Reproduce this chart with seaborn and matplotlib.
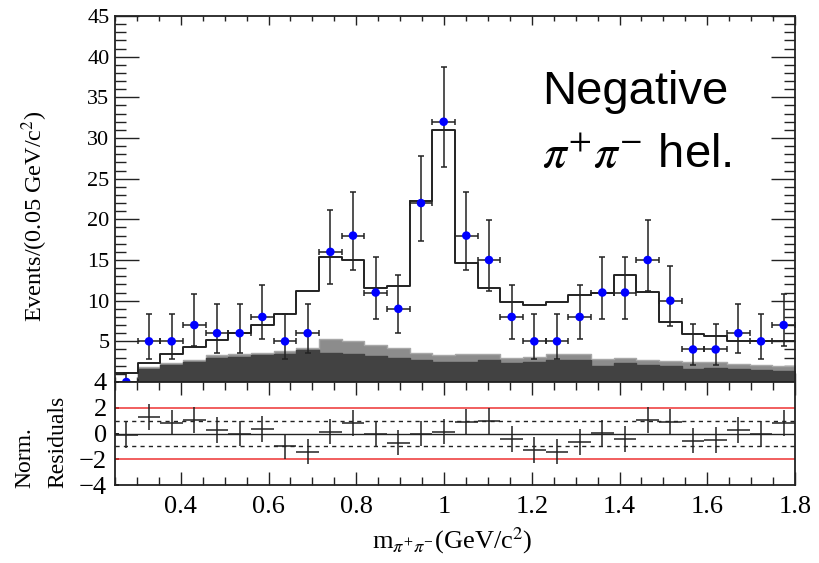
import numpy as np
import pandas as pd
import matplotlib
matplotlib.use("Agg")
import matplotlib.pyplot as plt
import seaborn as sns
from matplotlib.ticker import MultipleLocator, FixedLocator

# ---------------- data ----------------
x_min, x_max, n_bins = 0.25, 1.80, 30
edges = np.linspace(x_min, x_max, n_bins + 1)
centers = 0.5 * (edges[:-1] + edges[1:])
half_w = 0.5 * (edges[1] - edges[0])
bin_edges = [float(e) for e in edges]

data_counts = [0, 5, 5, 7, 6, 6, 8, 5, 6, 16, 18, 11, 9, 22, 32,
               18, 15, 8, 5, 5, 8, 11, 11, 15, 10, 4, 4, 6, 5, 7]
err_low = [0.0, 2.16, 2.16, 2.58, 2.38, 2.38, 2.77, 2.16, 2.38, 3.95, 4.20, 3.26, 2.94, 4.65, 5.62,
           4.20, 3.83, 2.77, 2.16, 2.16, 2.77, 3.26, 3.26, 3.83, 3.10, 1.91, 1.91, 2.38, 2.16, 2.58]
err_high = [1.15, 3.40, 3.40, 3.78, 3.60, 3.60, 3.96, 3.40, 3.60, 5.09, 5.33, 4.43, 4.12, 5.77, 6.72,
            5.33, 4.97, 3.96, 3.40, 3.40, 3.96, 4.43, 4.43, 4.97, 4.28, 3.18, 3.18, 3.60, 3.40, 3.78]
fit_total = [1.1, 2.3, 3.5, 4.3, 5.2, 6.0, 7.0, 8.4, 11.2, 15.4, 15.0, 11.5, 11.8, 22.2, 31.0,
             14.6, 11.6, 9.85, 9.5, 9.85, 10.65, 11.0, 13.2, 11.1, 7.4, 5.9, 5.65, 5.1, 5.0, 5.1]
bkg_dark = [0.0, 1.65, 2.05, 2.45, 2.95, 3.1, 3.3, 3.5, 3.9, 3.6, 3.4, 3.2, 3.0, 2.75, 2.45,
            2.45, 2.7, 2.3, 2.45, 2.7, 2.7, 2.0, 2.3, 2.15, 2.0, 1.65, 1.75, 1.6, 1.45, 1.4]
bkg_total = [0.0, 1.8, 2.3, 2.75, 3.3, 3.4, 3.6, 3.8, 4.2, 5.3, 5.0, 4.6, 4.2, 3.6, 3.3,
             3.5, 3.4, 2.9, 3.1, 3.4, 3.4, 2.8, 2.9, 2.7, 2.6, 2.45, 2.4, 2.25, 2.05, 1.95]
residuals = [-0.1, 1.3, 0.85, 1.05, 0.3, 0.0, 0.35, -1.0, -1.4, 0.15, 0.8, -0.05, -0.7, 0.0, 0.15,
             0.9, 0.95, -0.4, -1.3, -1.4, -0.65, 0.05, -0.45, 1.05, 0.9, -0.55, -0.5, 0.3, -0.05, 0.8]

x_ticks = [0.4, 0.6, 0.8, 1.0, 1.2, 1.4, 1.6, 1.8]
x_tick_labels = ["0.4", "0.6", "0.8", "1", "1.2", "1.4", "1.6", "1.8"]
y_ticks_top = [5, 10, 15, 20, 25, 30, 35, 40, 45]
y_ticks_res = [-4, -2, 0, 2, 4]

df = pd.DataFrame({"m": centers, "data": data_counts, "fit": fit_total,
                   "bkg_dark": bkg_dark, "bkg_total": bkg_total, "res": residuals})

# ---------------- style ----------------
sns.set_theme(style="ticks")
plt.rcParams["font.family"] = ["Liberation Serif", "DejaVu Serif"]
plt.rcParams["mathtext.fontset"] = "stix"
plt.rcParams["axes.linewidth"] = 1.3
for key in ["text.color", "axes.labelcolor", "xtick.color", "ytick.color", "axes.edgecolor"]:
    plt.rcParams[key] = "black"

W, H = 819, 563
fig = plt.figure(figsize=(W / 100, H / 100), dpi=100)
L, R = 115 / W, 795 / W
ax = fig.add_axes([L, 1 - 382 / H, R - L, (382 - 16) / H])
axr = fig.add_axes([L, 1 - 485 / H, R - L, (485 - 382) / H])

# ---------------- top panel ----------------
sns.histplot(x=df["m"], weights=df["bkg_total"], bins=bin_edges, element="step", fill=True,
             color="#8c8c8c", edgecolor="#a8a8a8", alpha=1, linewidth=1.0, ax=ax)
sns.histplot(x=df["m"], weights=df["bkg_dark"], bins=bin_edges, element="step", fill=True,
             color="#424242", edgecolor="#424242", alpha=1, linewidth=1.0, ax=ax)
sns.histplot(x=df["m"], weights=df["fit"], bins=bin_edges, element="step", fill=False,
             color="#222222", linewidth=1.4, ax=ax)

ax.errorbar(df["m"], df["data"], xerr=half_w, yerr=[err_low, err_high], fmt="none",
            ecolor="#222222", elinewidth=1.1, capsize=2.5, capthick=1.1, zorder=5)
sns.scatterplot(data=df, x="m", y="data", color="#0000ff", s=38, edgecolor="none",
                zorder=6, ax=ax)

ax.set_xlim(x_min, x_max)
ax.set_ylim(0, 45)
ax.set_xlabel("")
ax.set_ylabel("")
ax.xaxis.set_major_locator(FixedLocator(x_ticks))
ax.xaxis.set_minor_locator(MultipleLocator(0.05))
ax.yaxis.set_major_locator(FixedLocator(y_ticks_top))
ax.yaxis.set_minor_locator(MultipleLocator(1))
ax.tick_params(axis="x", which="both", direction="in", top=True, bottom=True, labelbottom=False,
               color="#222222", width=1.0)
ax.tick_params(axis="x", which="major", length=6.5)
ax.tick_params(axis="x", which="minor", length=3.5)
ax.tick_params(axis="y", which="both", direction="in", left=True, right=True,
               color="#222222", width=1.0, labelsize=16, pad=4)
ax.tick_params(axis="y", which="major", length=17)
ax.tick_params(axis="y", which="minor", length=8)
for sp in ax.spines.values():
    sp.set_visible(True)
    sp.set_color("#222222")

ax.text(0.628, 0.76, "Negative", transform=ax.transAxes, fontsize=34, color="black",
        family=["Liberation Sans", "DejaVu Sans"], ha="left", va="baseline")
ax.text(0.628, 0.585, r"$\pi^{+}\pi^{-}$ hel.", transform=ax.transAxes, fontsize=34,
        color="black", family=["Liberation Sans", "DejaVu Sans"], ha="left", va="baseline")

# ---------------- residual panel ----------------
axr.axhline(2, color="#ee3333", lw=1.1)
axr.axhline(-2, color="#ee3333", lw=1.1)
axr.axhline(1, color="#222222", lw=1.0, ls=(0, (3, 3)))
axr.axhline(-1, color="#222222", lw=1.0, ls=(0, (3, 3)))
axr.axhline(0, color="#222222", lw=1.0)
axr.errorbar(df["m"], df["res"], xerr=half_w, yerr=1, fmt="none", ecolor="#222222",
             elinewidth=1.1, capsize=0)

axr.set_xlim(x_min, x_max)
axr.set_ylim(-4, 4)
axr.xaxis.set_major_locator(FixedLocator(x_ticks))
axr.set_xticklabels(x_tick_labels)
axr.xaxis.set_minor_locator(MultipleLocator(0.05))
axr.yaxis.set_major_locator(FixedLocator(y_ticks_res))
axr.tick_params(axis="x", which="both", direction="in", top=True, bottom=True,
                color="#222222", width=1.0, labelsize=19, pad=8)
axr.tick_params(axis="x", which="major", length=9.5)
axr.tick_params(axis="x", which="minor", length=6)
axr.tick_params(axis="y", which="both", direction="in", left=True, right=False,
                length=3, labelsize=19, pad=6)
for sp in axr.spines.values():
    sp.set_visible(True)
    sp.set_color("#222222")

# ---------------- axis titles ----------------
fig.text(35 / W, 1 - 216 / H, r"Events/(0.05 GeV/c$^{2}$)", rotation=90,
         ha="center", va="center", fontsize=17.5)
fig.text(25 / W, 1 - 488 / H, "Norm.", rotation=90, ha="center", va="bottom", fontsize=17)
fig.text(58 / W, 1 - 488 / H, "Residuals", rotation=90, ha="center", va="bottom", fontsize=17)
fig.text(452 / W, 1 - 541 / H, r"m$_{\pi^{+}\pi^{-}}$(GeV/c$^{2}$)", ha="center",
         va="center", fontsize=19)

fig.savefig("out.png", dpi=100)
